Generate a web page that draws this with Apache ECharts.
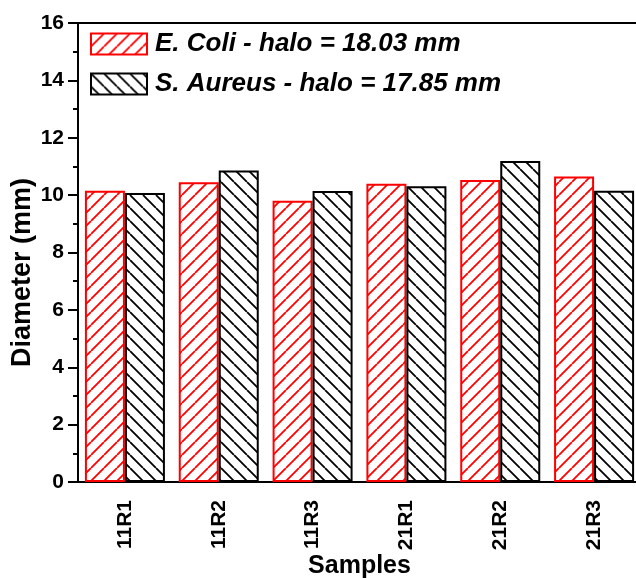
<!DOCTYPE html>
<html><head><meta charset="utf-8">
<script src="https://cdn.jsdelivr.net/npm/echarts@6/dist/echarts.min.js"></script>
<style>html,body{margin:0;padding:0;background:#fff}#c{width:636px;height:578px}</style>
</head><body><div id="c"></div>
<script>
const categories = ['11R1','11R2','11R3','21R1','21R2','21R3'];
const ecoli = [10.15, 10.45, 9.80, 10.40, 10.53, 10.65];
const saureus = [10.07, 10.86, 10.14, 10.31, 11.19, 10.15];
const seriesNames = ['E. Coli - halo = 18.03 mm', 'S. Aureus - halo = 17.85 mm'];
const yTicks = [0, 2, 4, 6, 8, 10, 12, 14, 16];

function hatch(color, dir) {
  const s = 13;
  const c = document.createElement('canvas');
  c.width = s; c.height = s;
  const g = c.getContext('2d');
  g.fillStyle = '#fff'; g.fillRect(0, 0, s, s);
  g.strokeStyle = color; g.lineWidth = 1.8;
  g.beginPath();
  if (dir === '/') {
    for (let k = -1; k <= 1; k++) { g.moveTo(k * s, s); g.lineTo(k * s + s, 0); }
  } else {
    for (let k = -1; k <= 1; k++) { g.moveTo(k * s, 0); g.lineTo(k * s + s, s); }
  }
  g.stroke();
  return { image: c, repeat: 'repeat' };
}

const font = 'Liberation Sans';
const chart = echarts.init(document.getElementById('c'), null, { renderer: 'canvas' });
chart.setOption({
  animation: false,
  backgroundColor: '#fff',
  grid: { left: 78, top: 23, width: 563, height: 459, show: true, borderColor: '#000', borderWidth: 2,
    containLabel: false, outerBoundsMode: 'none' },
  legend: {
    left: 90, top: 31, padding: 0, orient: 'vertical', itemWidth: 56, itemHeight: 21, itemGap: 14,
    textStyle: { fontFamily: font, fontWeight: 'bold', fontStyle: 'italic', fontSize: 26, color: '#000', padding: [0, 0, 0, 3] },
    data: [
      { name: seriesNames[0], icon: 'rect', itemStyle: { color: hatch('#ff0000', '/'), borderColor: '#ff0000', borderWidth: 2 } },
      { name: seriesNames[1], icon: 'rect', itemStyle: { color: hatch('#000', '\\'), borderColor: '#000', borderWidth: 2 } }
    ]
  },
  xAxis: [{
    type: 'category', data: categories, position: 'bottom',
    name: 'Samples', nameLocation: 'middle', nameGap: 72, nameMoveOverlap: false,
    nameTextStyle: { fontFamily: font, fontWeight: 'bold', fontSize: 25, color: '#000' },
    axisLine: { lineStyle: { color: '#000', width: 2 } },
    axisTick: { alignWithLabel: true, length: 10, lineStyle: { color: '#000', width: 2 } },
    axisLabel: { rotate: 90, margin: 18, fontFamily: font, fontWeight: 'bold', fontSize: 21, color: '#000' },
    splitLine: { show: false }
  }, {
    type: 'category', data: categories, position: 'bottom', offset: 0,
    axisLine: { show: false },
    axisTick: { alignWithLabel: false, length: 4, lineStyle: { color: '#000', width: 2 } },
    axisLabel: { show: false }, splitLine: { show: false }
  }],
  yAxis: {
    type: 'value', min: 0, max: 16, interval: 2,
    name: 'Diameter (mm)', nameLocation: 'middle', nameGap: 42, nameMoveOverlap: false,
    nameTextStyle: { fontFamily: font, fontWeight: 'bold', fontSize: 27, color: '#000', padding: [0, 40, 0, 0] },
    axisLine: { show: true, lineStyle: { color: '#000', width: 2 } },
    axisTick: { show: true, length: 10, lineStyle: { color: '#000', width: 2 } },
    minorTick: { show: true, splitNumber: 2, length: 5, lineStyle: { color: '#000', width: 2 } },
    axisLabel: { margin: 14, fontFamily: font, fontWeight: 'bold', fontSize: 21, color: '#000',
      formatter: v => yTicks.includes(v) ? String(v) : '' },
    splitLine: { show: false }
  },
  series: [{
    name: seriesNames[0], type: 'bar', data: ecoli, barWidth: 40, barGap: '0%',
    itemStyle: { color: hatch('#ff0000', '/'), borderColor: '#ff0000', borderWidth: 2 }
  }, {
    name: seriesNames[1], type: 'bar', data: saureus, barWidth: 40, barGap: '0%',
    itemStyle: { color: hatch('#000', '\\'), borderColor: '#000', borderWidth: 2 }
  }]
});
</script></body></html>
